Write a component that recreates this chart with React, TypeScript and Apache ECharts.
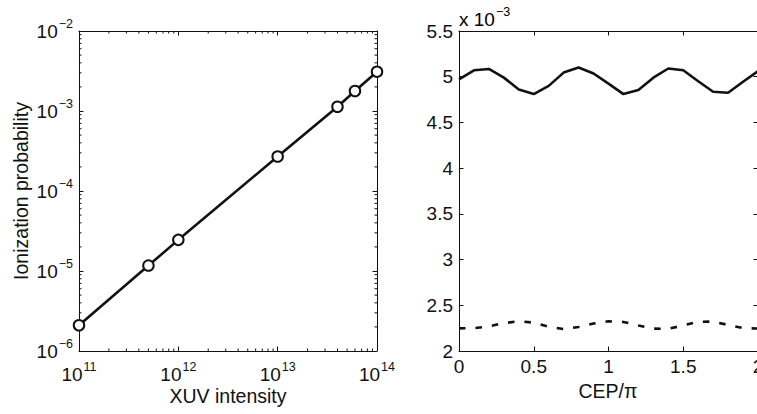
import React, { useEffect, useRef } from "react";
import * as echarts from "echarts";

// ---- data ----
const intensity = [1e11, 5e11, 1e12, 1e13, 4e13, 6e13, 1e14];
const ionizationProb = [2.1e-6, 1.17e-5, 2.45e-5, 2.7e-4, 1.13e-3, 1.78e-3, 3.1e-3];

const cepValues = [0, 0.1, 0.2, 0.3, 0.4, 0.5, 0.6, 0.7, 0.8, 0.9, 1.0, 1.1, 1.2, 1.3, 1.4, 1.5, 1.6, 1.7, 1.8, 1.9, 2.0];
// in units of 10^-3
const solidProb = [4.97, 5.07, 5.085, 4.99, 4.86, 4.81, 4.9, 5.045, 5.1, 5.035, 4.925, 4.81, 4.855, 4.99, 5.09, 5.07, 4.95, 4.835, 4.825, 4.945, 5.06];
const dashedProb = [2.248, 2.25, 2.27, 2.305, 2.325, 2.31, 2.265, 2.24, 2.262, 2.3, 2.325, 2.318, 2.28, 2.245, 2.242, 2.28, 2.32, 2.322, 2.285, 2.25, 2.245];

const intensityMinorTicks = [
  2e11, 3e11, 4e11, 5e11, 6e11, 7e11, 8e11, 9e11,
  2e12, 3e12, 4e12, 5e12, 6e12, 7e12, 8e12, 9e12,
  2e13, 3e13, 4e13, 5e13, 6e13, 7e13, 8e13, 9e13,
];
const probMinorTicks = [
  2e-6, 3e-6, 4e-6, 5e-6, 6e-6, 7e-6, 8e-6, 9e-6,
  2e-5, 3e-5, 4e-5, 5e-5, 6e-5, 7e-5, 8e-5, 9e-5,
  2e-4, 3e-4, 4e-4, 5e-4, 6e-4, 7e-4, 8e-4, 9e-4,
  2e-3, 3e-3, 4e-3, 5e-3, 6e-3, 7e-3, 8e-3, 9e-3,
];

const INK = "#111111";
const FONT = '"Liberation Sans", Arial, Helvetica, sans-serif';
const FS = 19;
const MAJOR = 4.5;
const MINOR = 2.5;

const rich = {
  b: { fontSize: FS, lineHeight: 28, fontFamily: FONT, color: INK, verticalAlign: "middle" },
  s: { fontSize: 12.5, lineHeight: 12, fontFamily: FONT, color: INK, verticalAlign: "top", padding: [0, 0, 0, 1] },
};

const powLabel = (v: number) => {
  const e = Math.round(Math.log10(v));
  return `{b|10}{s|${String(e).replace("-", "\u2212")}}`;
};

const lineStyle = { color: INK, width: 1 };

function App() {
  const ref = useRef<HTMLDivElement>(null);
  useEffect(() => {
    if (!ref.current) return;
    const chart = echarts.init(ref.current, undefined, { renderer: "svg" });

    const baseAxis = {
      axisLine: { show: true, onZero: false, lineStyle },
      axisTick: { show: true, inside: true, length: MAJOR, lineStyle },
      splitLine: { show: false },
    };

    const option: any = {
      animation: false,
      backgroundColor: "#ffffff",
      grid: [
        { left: 79, top: 31, width: 298, height: 320, outerBoundsMode: "none", containLabel: false },
        { left: 459, top: 31, width: 299, height: 320, outerBoundsMode: "none", containLabel: false },
      ],
      xAxis: [
        {
          ...baseAxis, type: "log", gridIndex: 0, min: 1e11, max: 1e14, position: "bottom",
          axisLabel: { margin: 9, formatter: powLabel, rich, showMinLabel: true, showMaxLabel: true },
        },
        { ...baseAxis, type: "log", gridIndex: 0, min: 1e11, max: 1e14, position: "top", axisLabel: { show: false } },
        {
          ...baseAxis, type: "value", gridIndex: 1, min: 0, max: 2, interval: 0.5, position: "bottom",
          axisLabel: { margin: 6, fontSize: FS, fontFamily: FONT, color: INK, showMinLabel: true, showMaxLabel: true },
        },
        { ...baseAxis, type: "value", gridIndex: 1, min: 0, max: 2, interval: 0.5, position: "top", axisLabel: { show: false } },
      ],
      yAxis: [
        {
          ...baseAxis, type: "log", gridIndex: 0, min: 1e-6, max: 1e-2, position: "left",
          axisLabel: { margin: 6, formatter: powLabel, rich, showMinLabel: true, showMaxLabel: true },
        },
        { ...baseAxis, type: "log", gridIndex: 0, min: 1e-6, max: 1e-2, position: "right", axisLabel: { show: false } },
        {
          ...baseAxis, type: "value", gridIndex: 1, min: 2, max: 5.5, interval: 0.5, position: "left",
          axisLabel: { margin: 6, fontSize: FS, fontFamily: FONT, color: INK, showMinLabel: true, showMaxLabel: true },
        },
        { ...baseAxis, type: "value", gridIndex: 1, min: 2, max: 5.5, interval: 0.5, position: "right", axisLabel: { show: false } },
      ],
      series: [
        {
          type: "custom",
          xAxisIndex: 0,
          yAxisIndex: 0,
          silent: true,
          data: intensityMinorTicks.map((v) => [v, 1e-4]),
          encode: { x: 0, y: 1 },
          renderItem: (_p: any, api: any) => {
            const v = api.value(0);
            const b = api.coord([v, 1e-6]);
            const t = api.coord([v, 1e-2]);
            return {
              type: "group",
              children: [
                { type: "line", shape: { x1: b[0], y1: b[1], x2: b[0], y2: b[1] - MINOR }, style: { stroke: INK, lineWidth: 1 } },
                { type: "line", shape: { x1: t[0], y1: t[1], x2: t[0], y2: t[1] + MINOR }, style: { stroke: INK, lineWidth: 1 } },
              ],
            };
          },
        },
        {
          type: "custom",
          xAxisIndex: 0,
          yAxisIndex: 0,
          silent: true,
          data: probMinorTicks.map((v) => [1e12, v]),
          encode: { x: 0, y: 1 },
          renderItem: (_p: any, api: any) => {
            const v = api.value(1);
            const l = api.coord([1e11, v]);
            const r = api.coord([1e14, v]);
            return {
              type: "group",
              children: [
                { type: "line", shape: { x1: l[0], y1: l[1], x2: l[0] + MINOR, y2: l[1] }, style: { stroke: INK, lineWidth: 1 } },
                { type: "line", shape: { x1: r[0], y1: r[1], x2: r[0] - MINOR, y2: r[1] }, style: { stroke: INK, lineWidth: 1 } },
              ],
            };
          },
        },
        {
          type: "line",
          xAxisIndex: 0,
          yAxisIndex: 0,
          clip: false,
          data: intensity.map((x, i) => [x, ionizationProb[i]]),
          symbol: "emptyCircle",
          symbolSize: 10.5,
          lineStyle: { color: INK, width: 2.6 },
          itemStyle: { color: INK, borderColor: INK, borderWidth: 2.6 },
          z: 3,
        },
        {
          type: "line",
          xAxisIndex: 2,
          yAxisIndex: 2,
          clip: false,
          showSymbol: false,
          symbol: "none",
          data: cepValues.map((x, i) => [x, solidProb[i]]),
          lineStyle: { color: INK, width: 2.6 },
        },
        {
          type: "line",
          xAxisIndex: 2,
          yAxisIndex: 2,
          clip: false,
          showSymbol: false,
          symbol: "none",
          data: cepValues.map((x, i) => [x, dashedProb[i]]),
          lineStyle: { color: INK, width: 2.6, type: [6.5, 10] },
        },
      ],
      graphic: [
        {
          type: "text",
          x: 21,
          y: 191,
          rotation: Math.PI / 2,
          style: { text: "Ionization probability", fontSize: 19.5, fontFamily: FONT, fill: INK, align: "center", verticalAlign: "middle" },
        },
        {
          type: "text",
          x: 228,
          y: 396,
          style: { text: "XUV intensity", fontSize: 19.5, fontFamily: FONT, fill: INK, align: "center", verticalAlign: "middle" },
        },
        {
          type: "text",
          x: 608,
          y: 391,
          style: { text: "CEP/\u03c0", fontSize: 19.5, fontFamily: FONT, fill: INK, align: "center", verticalAlign: "middle" },
        },
        {
          type: "text",
          x: 459,
          y: 19,
          style: { text: "{b|x 10}{s|\u22123}", rich, align: "left", verticalAlign: "middle" },
        },
      ],
    };

    chart.setOption(option);
    return () => chart.dispose();
  }, []);

  return (
    <div
      ref={ref}
      style={{ position: "fixed", left: 0, top: 0, width: 757, height: 414, background: "#ffffff" }}
    />
  );
}

export default App;
